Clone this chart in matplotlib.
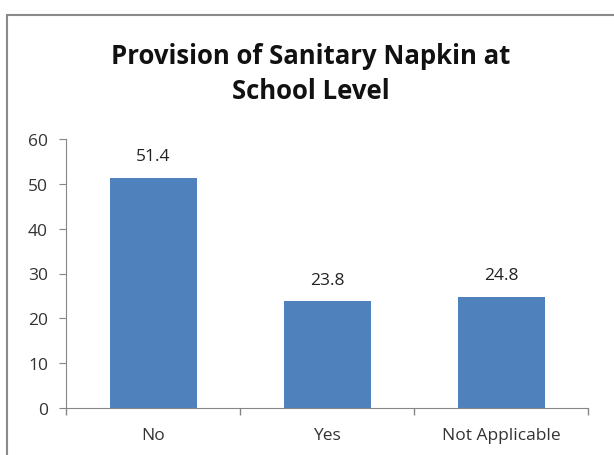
import matplotlib.pyplot as plt
from matplotlib.patches import Rectangle

categories = ["No", "Yes", "Not Applicable"]
values = [51.4, 23.8, 24.8]
yticks = [0, 10, 20, 30, 40, 50, 60]

plt.rcParams['font.family'] = ['Open Sans', 'DejaVu Sans']

fig = plt.figure(figsize=(6.14, 4.56), dpi=100)

# outer chart frame (runs off right/bottom like the screenshot)
fig.patches.append(Rectangle((7 / 614, -0.1), 1.2, (456 - 16) / 456 + 0.1,
                             transform=fig.transFigure, fill=False,
                             edgecolor='#8a8a8a', linewidth=1.5))

ax = fig.add_axes([66 / 614, 1 - 409 / 456, (588 - 66) / 614, (409 - 140) / 456])

x = range(len(categories))
bars = ax.bar(x, values, width=0.5, color='#4f81bd')
for b, v in zip(bars, values):
    ax.text(b.get_x() + b.get_width() / 2, v + 3, f"{v}", ha='center',
            va='bottom', fontsize=12.5, color='#222222')

ax.set_xlim(-0.5, len(categories) - 0.5)
ax.set_ylim(0, 60)
ax.set_yticks(yticks)
ax.set_xticks(list(x))
ax.set_xticklabels(categories)
ax.set_xticks([-0.5, 0.5, 1.5, 2.5], minor=True)
ax.tick_params(axis='x', which='major', length=0, pad=14)
ax.tick_params(axis='x', which='minor', length=5, color='#868686', width=1)
ax.tick_params(axis='y', length=5, color='#868686', labelsize=12.5,
               labelcolor='#333333', pad=8)
ax.tick_params(axis='x', labelsize=12.5, labelcolor='#333333')

for s in ['top', 'right']:
    ax.spines[s].set_visible(False)
for s in ['left', 'bottom']:
    ax.spines[s].set_color('#868686')

fig.text(311 / 614, 1 - 74 / 456, "Provision of Sanitary Napkin at\nSchool Level",
         ha='center', va='center', fontsize=18.5, fontweight='bold',
         linespacing=1.35, color='#111111')

fig.savefig("out.png", dpi=100)
